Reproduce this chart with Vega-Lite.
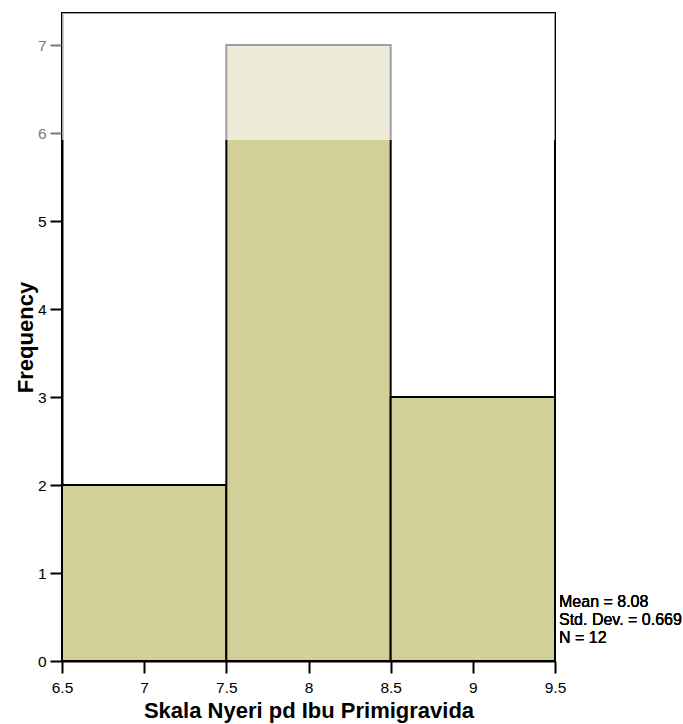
{
  "$schema": "https://vega.github.io/schema/vega-lite/v6.json",
  "width": 493,
  "height": 648,
  "autosize": {"type": "none"},
  "padding": {"left": 62, "top": 13, "right": 128, "bottom": 63},
  "background": "white",
  "config": {
    "view": {"stroke": "#000000", "strokeWidth": 2},
    "font": "Liberation Sans",
    "axis": {
      "domainColor": "#000000",
      "domainWidth": 2,
      "tickColor": "#000000",
      "tickWidth": 2,
      "tickSize": 12,
      "labelFont": "Liberation Sans",
      "labelFontSize": 15.5,
      "labelColor": "#000000",
      "titleFont": "Liberation Sans",
      "titleFontSize": 22,
      "titleFontWeight": "bold",
      "titleColor": "#000000",
      "grid": false
    }
  },
  "data": {
    "values": [
      {"lo": 6.5, "hi": 7.5, "count": 2},
      {"lo": 7.5, "hi": 8.5, "count": 7},
      {"lo": 8.5, "hi": 9.5, "count": 3}
    ]
  },
  "layer": [
    {
      "mark": {"type": "rect", "fill": "#d3cf98", "stroke": "#000000", "strokeWidth": 2},
      "encoding": {
        "x": {
          "field": "lo", "type": "quantitative",
          "scale": {"domain": [6.5, 9.5], "nice": false, "zero": false},
          "axis": {"values": [6.5, 7, 7.5, 8, 8.5, 9, 9.5], "format": "~g", "labelPadding": 7, "titlePadding": 5, "labelFlush": false},
          "title": "Skala Nyeri pd Ibu Primigravida"
        },
        "x2": {"field": "hi"},
        "y": {
          "field": "count", "type": "quantitative",
          "scale": {"domain": [0, 7.364], "nice": false},
          "axis": {
            "values": [0, 1, 2, 3, 4, 5, 6, 7],
            "format": "d",
            "labelPadding": 4,
            "titlePadding": 0,
            "labelColor": {"condition": {"test": "datum.value >= 6", "value": "#7a7a7a"}, "value": "#000000"},
            "tickColor": {"condition": {"test": "datum.value >= 6", "value": "#7a7a7a"}, "value": "#000000"}
          },
          "title": "Frequency"
        },
        "y2": {"datum": 0}
      }
    },
    {
      "mark": {"type": "rect", "fill": "#ffffff", "opacity": 0.28},
      "encoding": {
        "y": {"datum": 5.92, "type": "quantitative"},
        "y2": {"datum": 7.364}
      }
    },
    {
      "mark": {"type": "text", "align": "left", "baseline": "alphabetic", "dx": 4, "fontSize": 16, "lineHeight": 18, "font": "Liberation Sans", "fontWeight": "normal", "color": "#000000"},
      "encoding": {
        "x": {"datum": 9.5, "type": "quantitative"},
        "y": {"datum": 0.617, "type": "quantitative"},
        "text": {"value": ["Mean = 8.08", "Std. Dev. = 0.669", "N = 12"]}
      }
    }
  ]
}
